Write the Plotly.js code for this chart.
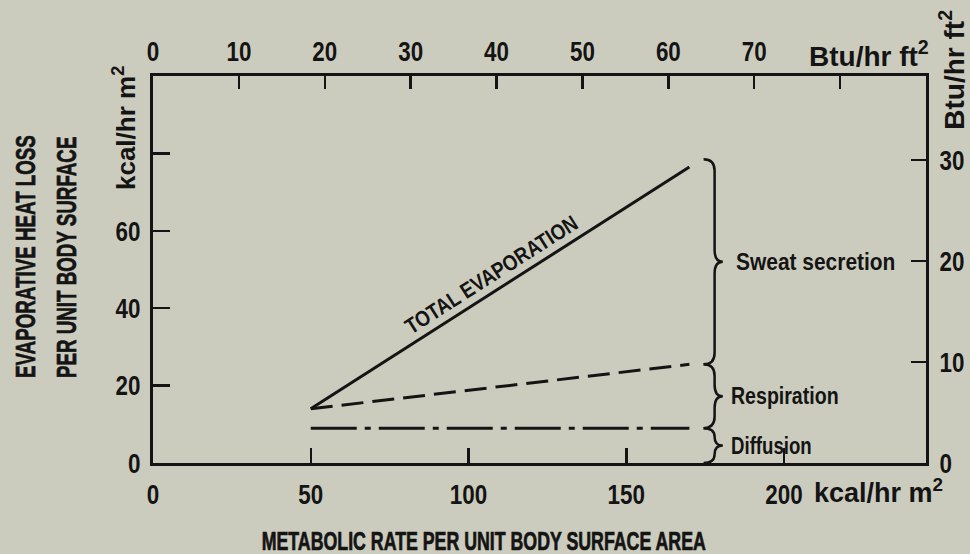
<!DOCTYPE html>
<html>
<head>
<meta charset="utf-8">
<script src="https://cdn.plot.ly/plotly-3.0.1.min.js"></script>
<style>
  html, body { margin: 0; padding: 0; background: rgb(204,204,190); }
  #chart { width: 970px; height: 554px; }
</style>
</head>
<body>
<div id="chart"></div>
<script>
// Evaporative heat loss vs metabolic rate (kcal/hr m² with Btu/hr ft² companion scales)
const metabolicRate     = [50, 170];
const totalEvaporation  = [14, 76.5];
const respirationLoss   = [14, 25.5];
const diffusionLoss     = [9, 9];

const bottomTickVals = [0, 50, 100, 150, 200];
const bottomTickText = ['0', '50', '100', '150', '200'];
const topTickVals    = [0, 10, 20, 30, 40, 50, 60, 70, 80];
const topTickText    = ['0', '10', '20', '30', '40', '50', '60', '70', ' '];
const leftTickVals   = [0, 20, 40, 60, 80];
const leftTickText   = ['0', '20', '40', '60', ' '];
const rightTickVals  = [0, 10, 20, 30];
const rightTickText  = ['0', '10', '20', '30'];

const braceLabels = ['Diffusion', 'Respiration', 'Sweat secretion'];
const xTitle = 'METABOLIC RATE PER UNIT BODY SURFACE AREA';
const yTitle = ['EVAPORATIVE HEAT LOSS', 'PER UNIT BODY SURFACE'];
const lineLabel = 'TOTAL EVAPORATION';

const ink = '#141414';
const family = '"Liberation Sans", Arial, sans-serif';
const fnt = (size) => ({family: family, size: size, color: ink, weight: 'bold'});

// horizontal squeeze applied to each text after drawing, giving a condensed face
const squeeze = {};
squeeze[xTitle] = 0.71;
squeeze[yTitle[0]] = 0.67;
squeeze[yTitle[1]] = 0.67;
squeeze[lineLabel] = 0.85;
squeeze[braceLabels[0]] = 0.81;
squeeze[braceLabels[1]] = 0.85;
squeeze[braceLabels[2]] = 0.91;
function squeezeFor(s) {
  if (/^\d+$/.test(s)) return 0.8;
  return squeeze[s] || 1;
}

// curly brace drawn as a path in data coordinates
function bracePath(xb, ya, yb) {
  const c = 3.5, t = 2.6;
  const h = Math.min(3, (yb - ya) / 4);
  const ym = (ya + yb) / 2;
  return `M ${xb - c} ${yb} Q ${xb} ${yb} ${xb} ${yb - h} ` +
         `L ${xb} ${ym + h} Q ${xb} ${ym} ${xb + t} ${ym} ` +
         `Q ${xb} ${ym} ${xb} ${ym - h} L ${xb} ${ya + h} ` +
         `Q ${xb} ${ya} ${xb - c} ${ya}`;
}

const last = metabolicRate.length - 1;
const braceX = 178;
const braceRanges = [
  [0, diffusionLoss[last]],
  [diffusionLoss[last], respirationLoss[last]],
  [respirationLoss[last], totalEvaporation[last] + 2]
];

const traces = [
  {x: metabolicRate, y: totalEvaporation, mode: 'lines', line: {color: ink, width: 3}, hoverinfo: 'skip'},
  {x: metabolicRate, y: respirationLoss, mode: 'lines', line: {color: ink, width: 3, dash: '22px,9px'}, hoverinfo: 'skip'},
  {x: metabolicRate, y: diffusionLoss, mode: 'lines', line: {color: ink, width: 3, dash: '46px,8px,6px,8px'}, hoverinfo: 'skip'},
  {x: [], y: [], xaxis: 'x2', yaxis: 'y2', mode: 'lines', hoverinfo: 'skip'}
];

const shapes = braceRanges.map(r => ({
  type: 'path', xref: 'x', yref: 'y', path: bracePath(braceX, r[0], r[1]),
  line: {color: ink, width: 2.5}
}));

// slope of total evaporation line in pixels, for the label angle
const pxX = 773 / 245, pxY = 387 / 100;
const slopeDeg = Math.atan(((totalEvaporation[last] - totalEvaporation[0]) * pxY) /
                           ((metabolicRate[last] - metabolicRate[0]) * pxX)) * 180 / Math.PI;
const labelX = 108;
const labelY = totalEvaporation[0] + (labelX - metabolicRate[0]) *
               (totalEvaporation[last] - totalEvaporation[0]) / (metabolicRate[last] - metabolicRate[0]);

const annotations = [
  {text: lineLabel, x: labelX, y: labelY, xref: 'x', yref: 'y', yshift: 17, xshift: -2,
   textangle: -slopeDeg, showarrow: false, font: fnt(22)},
  ...braceRanges.map((r, i) => ({
    text: braceLabels[i], x: braceX + 2.6, y: (r[0] + r[1]) / 2, xref: 'x', yref: 'y',
    xanchor: 'left', align: 'left', yanchor: 'middle', xshift: i === 2 ? 11 : 6, showarrow: false, font: fnt(23)
  })),
  {text: xTitle, xref: 'paper', yref: 'paper',
   x: 0.428, y: -0.2016, xanchor: 'center', yanchor: 'middle', showarrow: false, font: fnt(25)},
  {text: yTitle[0], xref: 'paper', yref: 'paper', x: -0.166, y: 0.532,
   textangle: -90, xanchor: 'center', yanchor: 'middle', showarrow: false, font: fnt(28)},
  {text: yTitle[1], xref: 'paper', yref: 'paper', x: -0.112, y: 0.532,
   textangle: -90, xanchor: 'center', yanchor: 'middle', showarrow: false, font: fnt(28)},
  {text: 'kcal/hr m<sup>2</sup>', xref: 'paper', yref: 'paper', x: -0.036, y: 0.866,
   textangle: -90, xanchor: 'center', yanchor: 'middle', showarrow: false, font: fnt(26)},
  {text: 'kcal/hr m<sup>2</sup>', xref: 'x', yref: 'paper', x: 200, y: -0.072, xshift: 28,
   xanchor: 'left', align: 'left', yanchor: 'middle', showarrow: false, font: fnt(27)},
  {text: 'Btu/hr ft<sup>2</sup>', xref: 'paper', yref: 'paper', x: 0.846, y: 1.057,
   xanchor: 'left', align: 'left', yanchor: 'middle', showarrow: false, font: fnt(28)},
  {text: 'Btu/hr ft<sup>2</sup>', xref: 'paper', yref: 'paper', x: 1.034, y: 1.017,
   textangle: -90, xanchor: 'center', yanchor: 'middle', showarrow: false, font: fnt(28)}
];

const axisCommon = {
  showline: true, linecolor: ink, linewidth: 3, showgrid: false, zeroline: false,
  ticks: 'inside', tickcolor: ink, tickwidth: 2.5, tickmode: 'array', fixedrange: true
};

const layout = {
  width: 970, height: 554,
  margin: {l: 153, r: 44, t: 76, b: 91},
  paper_bgcolor: 'rgb(204,204,190)', plot_bgcolor: 'rgb(204,204,190)',
  showlegend: false,
  xaxis: Object.assign({}, axisCommon, {range: [0, 245], tickvals: bottomTickVals, ticktext: bottomTickText,
    ticklen: 15, tickfont: fnt(28), ticklabelstandoff: 4}),
  xaxis2: Object.assign({}, axisCommon, {range: [0, 90], overlaying: 'x', side: 'top', anchor: 'y2',
    tickvals: topTickVals, ticktext: topTickText, ticklen: 13, tickfont: fnt(28), ticklabelstandoff: 1}),
  yaxis: Object.assign({}, axisCommon, {range: [0, 100], tickvals: leftTickVals, ticktext: leftTickText,
    ticklen: 17, tickfont: fnt(28), ticklabelstandoff: 4}),
  yaxis2: Object.assign({}, axisCommon, {range: [0, 38.3], overlaying: 'y', side: 'right', anchor: 'x2',
    tickvals: rightTickVals, ticktext: rightTickText, ticklen: 15, tickfont: fnt(28), ticklabelstandoff: 5}),
  shapes: shapes,
  annotations: annotations
};

Plotly.newPlot('chart', traces, layout, {displayModeBar: false, staticPlot: true}).then(gd => {
  gd.querySelectorAll('svg text').forEach(t => {
    const s = t.textContent.trim();
    if (!s) return;
    const k = squeezeFor(s);
    if (k >= 1) return;
    const len = t.getComputedTextLength();
    if (!(len > 0)) return;
    t.setAttribute('textLength', (len * k).toFixed(1));
    t.setAttribute('lengthAdjust', 'spacingAndGlyphs');
    // squeezed capitals lose stroke weight; thicken them a little
    if (k < 0.8) {
      t.style.stroke = ink;
      t.style.strokeWidth = '0.7px';
    }
  });
});
</script>
</body>
</html>
